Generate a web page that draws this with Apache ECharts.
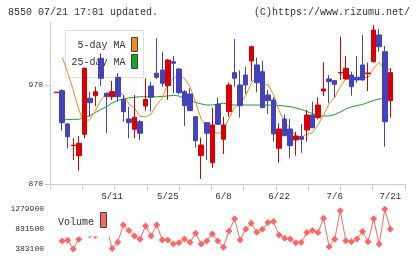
<!DOCTYPE html>
<html><head><meta charset="utf-8">
<script src="https://cdn.jsdelivr.net/npm/echarts@6/dist/echarts.min.js"></script>
<style>html,body{margin:0;padding:0;background:#fff;}#c{width:420px;height:259px;}</style>
</head><body><div id="c"></div>
<script>
const dates = ['4/21','4/22','4/23','4/24','4/27','4/28','4/30','5/1','5/7','5/8','5/11','5/12','5/13','5/14','5/15','5/18','5/19','5/20','5/21','5/22','5/25','5/26','5/27','5/28','5/29','6/1','6/2','6/3','6/4','6/5','6/8','6/9','6/10','6/11','6/12','6/15','6/16','6/17','6/18','6/19','6/22','6/23','6/24','6/25','6/26','6/29','6/30','7/1','7/2','7/3','7/6','7/7','7/8','7/9','7/10','7/13','7/14','7/15','7/16','7/17','7/21'];
const dateTickLabels = ['5/11','5/25','6/8','6/22','7/6','7/21'];
const opens  = [962.6,964.5,930.8,909.0,898.7,920.4,956.8,959.5,997.4,961.9,958.4,978.1,955.8,935.9,925.4,933.1,949.0,969.3,982.2,985.5,969.6,993.9,986.5,963.5,961.2,938.2,898.7,932.1,891.6,950.7,915.3,943.3,982.8,970.3,980.4,994.6,990.6,983.8,960.2,955.1,906.2,935.9,925.7,914.6,917.9,924.7,939.9,937.2,964.2,976.4,974.7,982.5,976.4,980.4,978.1,990.6,981.9,993.9,1021.0,1004.0,954.4];
const closes = [963.0,932.1,917.9,909.4,911.2,987.2,952.4,963.5,977.1,958.4,963.5,958.4,943.3,932.1,937.6,921.4,955.8,957.8,978.1,972.0,995.6,992.3,962.5,949.3,944.3,913.9,909.5,921.4,929.8,930.5,929.8,970.3,977.1,949.3,970.3,1009.1,972.6,947.3,954.4,920.7,925.7,918.9,908.8,918.6,915.3,939.9,927.0,950.0,966.3,973.6,971.0,983.0,987.2,968.6,975.4,975.4,982.5,1026.0,1009.1,933.1,982.8];
const lows   = [962.6,924.0,906.2,894.3,883.5,916.3,938.2,949.0,969.3,921.4,955.1,953.4,933.1,916.3,916.3,914.6,944.3,943.3,976.5,968.6,955.1,961.9,961.0,928.8,944.0,906.8,875.1,894.3,886.5,929.8,900.4,938.2,968.6,937.2,961.2,974.4,962.9,947.0,940.9,912.9,891.6,918.5,896.0,898.7,901.7,912.9,926.5,935.5,959.2,951.8,957.4,975.4,976.0,959.5,972.6,974.4,964.2,993.0,1004.0,907.8,937.2];
const highs  = [963.0,966.0,931.5,916.3,918.6,988.0,963.5,968.6,1002.4,962.5,974.4,982.2,960.2,948.3,960.2,934.8,977.1,973.6,1017.6,1004.0,996.5,999.7,987.5,965.2,967.0,938.5,916.9,932.5,947.3,957.4,938.2,972.6,1016.9,985.0,988.8,1010.3,998.0,994.6,965.2,957.8,931.5,940.6,935.9,923.0,930.8,945.0,953.4,957.8,993.3,980.4,975.0,1019.2,999.7,983.8,999.7,1021.0,992.9,1031.1,1027.0,1009.8,987.2];
const ma5  = [null,998.5,983.0,965.0,945.0,931.5,935.6,944.7,955.0,962.0,963.0,964.2,960.1,951.1,947.0,938.6,938.0,940.9,950.1,957.0,971.9,977.0,980.1,977.0,968.8,952.5,935.9,927.7,923.8,921.0,924.2,936.4,947.5,951.4,959.4,972.0,979.0,969.7,970.7,960.8,944.1,933.4,925.7,918.5,917.5,920.3,921.9,930.2,939.7,951.4,957.6,968.7,976.2,976.6,977.0,977.9,977.8,987.0,993.6,985.2,986.6];
const ma25 = [null,935.9,935.4,935.4,935.6,937.4,939.4,942.4,945.5,948.3,952.1,954.6,956.1,957.1,957.8,958.4,958.4,958.4,958.4,958.7,959.2,959.7,959.2,956.6,954.6,952.6,951.1,950.0,950.0,951.1,951.8,950.5,950.0,950.0,950.0,950.0,950.0,950.0,950.0,949.7,949.5,949.0,948.3,947.0,945.5,943.4,941.4,939.4,938.9,938.9,940.4,942.9,946.0,948.0,949.5,950.5,952.6,954.6,956.1,956.8,957.6];
const volumes = [null,564700,580600,383100,603300,900000,700000,690000,760000,860000,395000,535200,928000,798600,678300,603300,905300,678300,928000,587500,587500,496600,526100,610100,535200,739600,496600,564700,723700,564700,421700,791800,1064300,587500,830400,966600,762300,830400,980200,1003000,701000,626000,610100,526100,535200,753200,798600,753200,1080100,435300,603300,1245900,571500,548800,610100,775900,548800,1064300,489800,1279900,830400];
const priceTickLabels = [870, 970];
const volumeTickLabels = [383100, 831500, 1279900];

const FONT = 'Liberation Mono';
const cats = ['p0'].concat(dates, ['p62','p63','p64']);
const pad = a => [null].concat(a, [null, null, null]).map(v => v == null ? '-' : v);
const candleData = [['-','-','-','-']].concat(dates.map((d, i) => [opens[i], closes[i], lows[i], highs[i]]), [['-','-','-','-'],['-','-','-','-'],['-','-','-','-']]);
const gray = '#cccccc';

const chart = echarts.init(document.getElementById('c'), null, {renderer: 'canvas'});
chart.setOption({
  animation: false,
  backgroundColor: '#fff',
  grid: [
    {left: 50, top: 22.1, width: 355, height: 161.9},
    {left: 51, top: 22.1, width: 356, height: 161.9},
    {left: 51, top: 209.3, width: 356, height: 39.7}
  ],
  xAxis: [
    {gridIndex: 0, type: 'value', min: 0, max: 11, interval: 1,
     axisLine: {lineStyle: {color: gray}}, axisTick: {length: 6, lineStyle: {color: gray}},
     axisLabel: {show: false}, splitLine: {show: false}},
    {gridIndex: 1, type: 'category', data: cats, boundaryGap: false,
     axisLine: {show: false}, axisTick: {show: false}, splitLine: {show: false},
     axisLabel: {interval: (i, v) => dateTickLabels.includes(v), formatter: v => dateTickLabels.includes(v) ? v : '',
       fontFamily: FONT, fontSize: 9, color: '#333', margin: 8}},
    {gridIndex: 2, type: 'category', data: cats, boundaryGap: false, show: false}
  ],
  yAxis: [
    {gridIndex: 0, type: 'value', min: 870, max: 1034,
     axisLine: {show: true, lineStyle: {color: gray}},
     axisTick: {show: true, length: 5, customValues: priceTickLabels, lineStyle: {color: gray}},
     axisLabel: {customValues: priceTickLabels, formatter: v => String(v), fontFamily: FONT, fontSize: 8, color: '#333', margin: 7},
     splitLine: {show: false}},
    {gridIndex: 1, type: 'value', min: 870, max: 1034, show: false, splitLine: {show: false}},
    {gridIndex: 2, type: 'value', min: 383100, max: 1279900,
     axisLine: {show: false}, axisTick: {show: false}, splitLine: {show: false},
     axisLabel: {customValues: volumeTickLabels, formatter: v => String(v), fontFamily: FONT, fontSize: 8, color: '#333', margin: 7}}
  ],
  series: [
    {type: 'line', name: '25-day MA', xAxisIndex: 1, yAxisIndex: 1, data: pad(ma25), symbol: 'none',
     lineStyle: {color: '#11a822', width: 1}, z: 3},
    {type: 'line', name: '5-day MA', xAxisIndex: 1, yAxisIndex: 1, data: pad(ma5), symbol: 'none',
     lineStyle: {color: '#f08a1c', width: 1}, z: 3},
    {type: 'candlestick', xAxisIndex: 1, yAxisIndex: 1, data: candleData, barWidth: 5,
     itemStyle: {color: '#d80000', color0: '#4343bd', borderColor: '#d80000', borderColor0: '#4343bd', borderWidth: 1}, z: 5},
    {type: 'line', name: 'Volume', xAxisIndex: 2, yAxisIndex: 2, data: pad(volumes), symbol: 'diamond', symbolSize: 7,
     showAllSymbol: true, connectNulls: false, lineStyle: {color: '#ff6666', width: 1}, itemStyle: {color: '#ff6666'}, z: 3}
  ],
  graphic: [
    {type: 'text', left: 8, top: 7, z: 10, style: {text: '8550 07/21 17:01 updated.', font: '10px "Liberation Mono"', fill: '#333'}},
    {type: 'text', right: 10, top: 7, z: 10, style: {text: '(C)https://www.rizumu.net/', font: '10px "Liberation Mono"', fill: '#333'}},
    {type: 'rect', z: 0, shape: {x: 65.5, y: 30.5, width: 78, height: 47}, style: {fill: '#fff', stroke: '#dddddd', lineWidth: 1}},
    {type: 'text', z: 1, style: {text: '5-day MA', x: 125.5, y: 45, align: 'right', verticalAlign: 'middle', font: '10px "Liberation Mono"', fill: '#333'}},
    {type: 'text', z: 1, style: {text: '25-day MA', x: 125.5, y: 62, align: 'right', verticalAlign: 'middle', font: '10px "Liberation Mono"', fill: '#333'}},
    {type: 'rect', z: 1, shape: {x: 131.5, y: 37.5, width: 6, height: 14}, style: {fill: '#f08a1c', stroke: '#444', lineWidth: 1}},
    {type: 'rect', z: 1, shape: {x: 131.5, y: 54.5, width: 6, height: 14}, style: {fill: '#11a822', stroke: '#444', lineWidth: 1}},
    {type: 'rect', z: 20, shape: {x: 56, y: 203, width: 53.5, height: 33.5}, style: {fill: '#fff'}},
    {type: 'text', z: 21, style: {text: 'Volume', x: 58, y: 222, verticalAlign: 'middle', font: '10px "Liberation Mono"', fill: '#333'}},
    {type: 'rect', z: 21, shape: {x: 100.5, y: 212.5, width: 6, height: 15}, style: {fill: '#ff6666', stroke: '#444', lineWidth: 1}}
  ]
});
</script></body></html>
